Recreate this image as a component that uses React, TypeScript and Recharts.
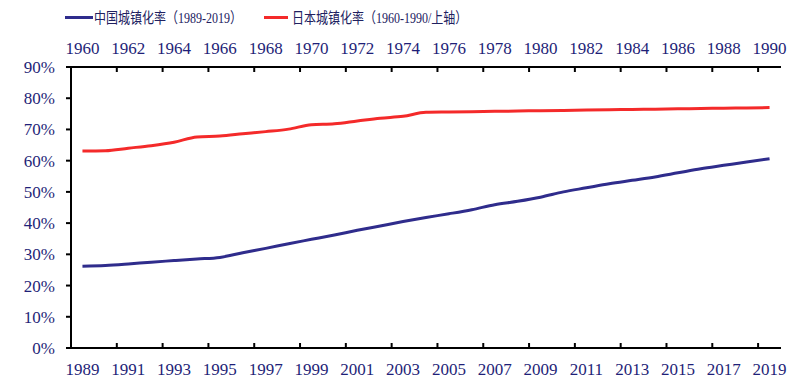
import React from 'react';
import { LineChart, Line, XAxis, YAxis } from 'recharts';

// bottom axis: China, 1989-2019
const chinaYears = [
  '1989', '1990', '1991', '1992', '1993', '1994', '1995', '1996', '1997', '1998', '1999',
  '2000', '2001', '2002', '2003', '2004', '2005', '2006', '2007', '2008', '2009',
  '2010', '2011', '2012', '2013', '2014', '2015', '2016', '2017', '2018', '2019',
];
// top axis: Japan, 1960-1990
const japanYears = [
  '1960', '1961', '1962', '1963', '1964', '1965', '1966', '1967', '1968', '1969', '1970',
  '1971', '1972', '1973', '1974', '1975', '1976', '1977', '1978', '1979', '1980',
  '1981', '1982', '1983', '1984', '1985', '1986', '1987', '1988', '1989', '1990',
];
const chinaRate = [
  26.2, 26.4, 26.9, 27.5, 28.0, 28.5, 29.0, 30.5, 31.9, 33.4, 34.8,
  36.2, 37.7, 39.1, 40.5, 41.8, 43.0, 44.3, 45.9, 47.0, 48.3,
  50.0, 51.3, 52.6, 53.7, 54.8, 56.1, 57.4, 58.5, 59.6, 60.6,
];
const japanRate = [
  63.1, 63.2, 64.0, 64.8, 65.9, 67.6, 67.9, 68.6, 69.3, 70.1, 71.5,
  71.8, 72.7, 73.6, 74.2, 75.5, 75.6, 75.7, 75.8, 75.9, 76.0,
  76.1, 76.2, 76.3, 76.4, 76.5, 76.6, 76.7, 76.8, 76.9, 77.0,
];
const yTicks = [0, 10, 20, 30, 40, 50, 60, 70, 80, 90];

const data = chinaRate.map((v, i) => ({ idx: i, china: v, japan: japanRate[i] }));

// labels on every other year, tick marks on the boundaries between them
const xTicks: number[] = [];
for (let i = 0; i < chinaYears.length; i += 2) {
  xTicks.push(i);
  if (i + 1.5 < chinaYears.length - 1) xTicks.push(i + 1.5);
}

const NAVY = '#1f1f78';
const BLUE = '#2f2c8c';
const RED = '#f42a2a';
const FONT = "'Liberation Serif', 'Times New Roman', serif";

const makeTick = (labels: string[], side: 'top' | 'bottom') => (props: any) => {
  const { x, y, payload } = props;
  const v = payload.value;
  if (Number.isInteger(v)) {
    return (
      <text
        x={x}
        y={side === 'bottom' ? y + 27 : y - 13}
        textAnchor="middle"
        fill={NAVY}
        fontSize={17}
        fontFamily={FONT}
      >
        {labels[v]}
      </text>
    );
  }
  return (
    <line x1={x} x2={x} y1={y} y2={side === 'bottom' ? y - 5 : y + 5} stroke="#000" strokeWidth={2} />
  );
};

const legendText: React.CSSProperties = {
  position: 'absolute',
  top: 8,
  height: 20,
  lineHeight: '20px',
  fontSize: 15,
  color: '#202060',
  fontFamily: "'Liberation Serif', 'Noto Sans CJK SC', serif",
  whiteSpace: 'nowrap',
  transform: 'scaleX(0.8)',
  transformOrigin: 'left center',
};

export default function App() {
  return (
    <div style={{ position: 'absolute', left: 0, top: 0, width: 800, height: 386, background: '#fff' }}>
      <div style={{ position: 'absolute', left: 65, top: 16, width: 28, height: 3, background: BLUE }} />
      <div style={{ ...legendText, left: 94 }}>中国城镇化率（1989-2019）</div>
      <div style={{ position: 'absolute', left: 264, top: 16, width: 24, height: 3, background: RED }} />
      <div style={{ ...legendText, left: 292 }}>日本城镇化率（1960-1990/上轴）</div>

      <LineChart width={800} height={386} data={data} margin={{ top: 37, right: 19, left: 0, bottom: 0 }}>
        <XAxis
          xAxisId="b"
          type="number"
          dataKey="idx"
          domain={[-0.5, 30.5]}
          ticks={xTicks}
          interval={0}
          height={38}
          tickSize={0}
          tickMargin={0}
          tickLine={false}
          axisLine={{ stroke: '#000', strokeWidth: 2 }}
          tick={makeTick(chinaYears, 'bottom')}
        />
        <XAxis
          xAxisId="t"
          orientation="top"
          type="number"
          dataKey="idx"
          domain={[-0.5, 30.5]}
          ticks={xTicks}
          interval={0}
          height={30}
          tickSize={0}
          tickMargin={0}
          tickLine={false}
          axisLine={{ stroke: '#000', strokeWidth: 2 }}
          tick={makeTick(japanYears, 'top')}
        />
        <YAxis
          domain={[0, 90]}
          ticks={yTicks}
          interval={0}
          width={71}
          tickSize={5}
          tickMargin={11}
          tickFormatter={(v) => `${v}%`}
          axisLine={{ stroke: '#000', strokeWidth: 2 }}
          tickLine={{ stroke: '#000', strokeWidth: 2 }}
          tick={{ fill: NAVY, fontSize: 17, fontFamily: FONT }}
        />
        <Line
          xAxisId="b"
          type="monotone"
          dataKey="china"
          stroke={BLUE}
          strokeWidth={3}
          dot={false}
          isAnimationActive={false}
        />
        <Line
          xAxisId="t"
          type="monotone"
          dataKey="japan"
          stroke={RED}
          strokeWidth={3}
          dot={false}
          isAnimationActive={false}
        />
      </LineChart>
    </div>
  );
}
